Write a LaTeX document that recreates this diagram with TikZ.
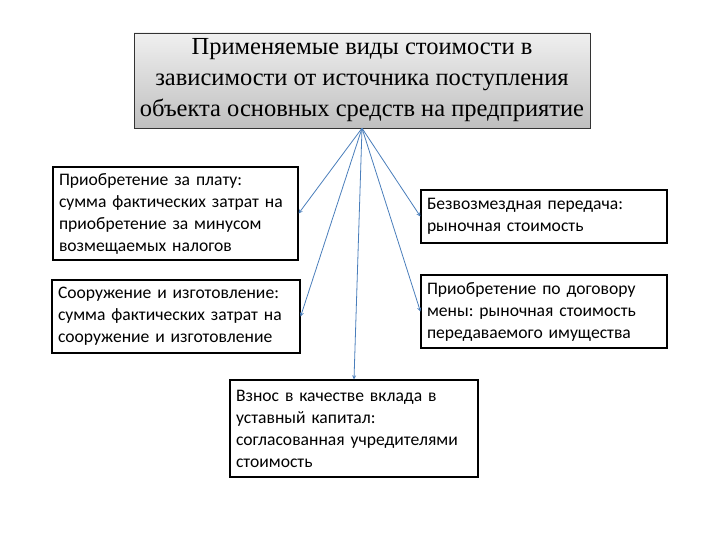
\documentclass[tikz,border=0pt]{standalone}
\usepackage{fontspec}
\setmainfont{Liberation Serif}
\newfontfamily\calibri{Carlito}
\definecolor{linkblue}{RGB}{74,126,187}
\begin{document}
\begin{tikzpicture}[x=1pt,y=-1pt,>=stealth,
 head/.style={draw=black!80,top color=gray!12,bottom color=gray!50,minimum width=456pt,minimum height=95pt,
  align=center,inner sep=2pt,font=\fontsize{24.5}{31}\selectfont},
 way/.style={draw,line width=1.2pt,align=left,inner sep=6pt,minimum height=#1,
  font=\calibri\fontsize{17.6}{22}\selectfont\frenchspacing},
 arr/.style={->,draw=linkblue,line width=0.8pt}]
\useasboundingbox (0,0) rectangle (720,540);
\node[head] (main) at (362,80.5) {Применяемые виды стоимости в\\зависимости от источника поступления\\объекта основных средств на предприятие};
\node[way=91pt,text width=233pt] (pay) at (175.5,213.5) {Приобретение за плату:\\сумма фактических затрат на\\приобретение за минусом\\возмещаемых налогов};
\node[way=73pt,text width=236pt] (build) at (176,316.5) {Сооружение и изготовление:\\сумма фактических затрат на\\сооружение и изготовление};
\node[way=97pt,text width=236pt] (share) at (354,428.5) {Взнос в качестве вклада в\\уставный капитал:\\согласованная учредителями\\стоимость};
\node[way=53pt,text width=234pt] (gift) at (544,216.5) {Безвозмездная передача:\\рыночная стоимость};
\node[way=73pt,text width=234pt] (swap) at (544,311.5) {Приобретение по договору\\мены: рыночная стоимость\\передаваемого имущества};
\draw[arr] (main.south) -- (pay.east);
\draw[arr] (main.south) -- (build.east);
\draw[arr] (main.south) -- (share.north);
\draw[arr] (main.south) -- (gift.west);
\draw[arr] (main.south) -- (swap.west);
\end{tikzpicture}
\end{document}
